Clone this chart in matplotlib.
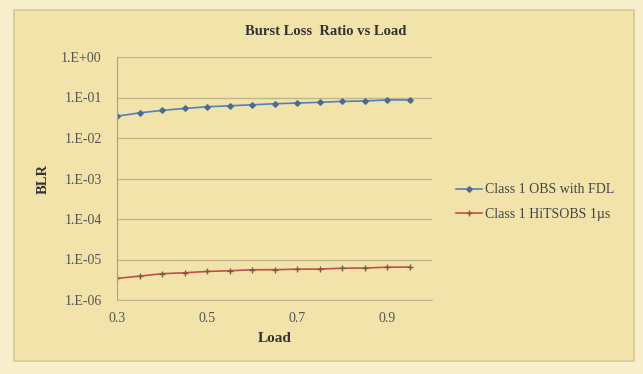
import math
import matplotlib.pyplot as plt
from matplotlib.patches import Rectangle
from matplotlib.ticker import FixedLocator, FuncFormatter

# Data
load = [0.30, 0.35, 0.40, 0.45, 0.50, 0.55, 0.60, 0.65, 0.70, 0.75, 0.80, 0.85, 0.90, 0.95]
blrObsFdl = [0.0345, 0.0417, 0.048, 0.0537, 0.059, 0.0624, 0.066, 0.070,
             0.073, 0.076, 0.080, 0.082, 0.087, 0.087]
blrHitsobs = [3.41e-6, 3.89e-6, 4.46e-6, 4.7e-6, 5.07e-6, 5.27e-6, 5.58e-6, 5.6e-6,
              5.77e-6, 5.8e-6, 6.1e-6, 6.15e-6, 6.46e-6, 6.5e-6]
xTicks = [0.3, 0.5, 0.7, 0.9]
yTicks = [1e-6, 1e-5, 1e-4, 1e-3, 1e-2, 1e-1, 1e0]


def excelSci(v, pos):
    # Excel style "1.E-03" labels
    e = round(math.log10(v))
    return "1.E+00" if e >= 0 else "1.E-%02d" % (-e)


plt.rcParams["font.family"] = ["Liberation Serif", "DejaVu Serif"]

fig = plt.figure(figsize=(6.43, 3.74), dpi=100)
fig.patch.set_facecolor("#F7EECB")

# chart area frame
fig.patches.append(Rectangle((14 / 643, 13 / 374), 620 / 643, 351 / 374,
                             transform=fig.transFigure, facecolor="#F2E3AA",
                             edgecolor="#D8CB94", linewidth=1.2, zorder=-1))

ax = fig.add_axes([117 / 643, 1 - 300 / 374, 315 / 643, 243 / 374])
ax.set_zorder(1)
ax.set_facecolor("#F2E3AA")

ax.plot(load, blrObsFdl, color="#4F81BD", marker="D", markersize=2.8,
        markerfacecolor="#4A6C8F", markeredgecolor="#4A6C8F", linewidth=1.2,
        label="Class 1 OBS with FDL")
ax.plot(load, blrHitsobs, color="#C0504D", marker="+", markersize=4,
        markeredgecolor="#7A5A40", linewidth=1.2,
        label="Class 1 HiTSOBS 1\u00b5s")

ax.set_yscale("log")
ax.set_ylim(1e-6, 1)
ax.set_xlim(0.3, 1.0)
ax.yaxis.set_major_locator(FixedLocator(yTicks))
ax.yaxis.set_minor_locator(FixedLocator([]))
ax.yaxis.set_major_formatter(FuncFormatter(excelSci))
ax.set_xticks(xTicks)
ax.set_xticklabels(["0.3", "0.5", "0.7", "0.9"])

ax.grid(axis="y", color="#BFB68C", linewidth=1.0)
for side in ["top", "right"]:
    ax.spines[side].set_visible(False)
ax.spines["left"].set_color("#A8A08A")
ax.spines["bottom"].set_color("#BFB68C")
ax.tick_params(axis="both", colors="#555555", labelsize=10, length=0)
ax.tick_params(axis="x", pad=9)
ax.tick_params(axis="y", pad=11)

ax.set_xlabel("Load", fontsize=11, fontweight="bold", color="#333333", labelpad=5)
ax.set_ylabel("BLR", fontsize=10.5, fontweight="bold", color="#333333", labelpad=8)
fig.text(0.506, 0.915, "Burst Loss  Ratio vs Load", ha="center", va="center",
         fontsize=10.5, fontweight="bold", color="#333333")

fig.legend(loc="center left", bbox_to_anchor=(443 / 643, 1 - 202 / 374),
           frameon=False, fontsize=10, handlelength=1.9, labelspacing=0.8,
           handletextpad=0.2, labelcolor="#444444")

fig.savefig("out.png", dpi=100, facecolor=fig.get_facecolor())
